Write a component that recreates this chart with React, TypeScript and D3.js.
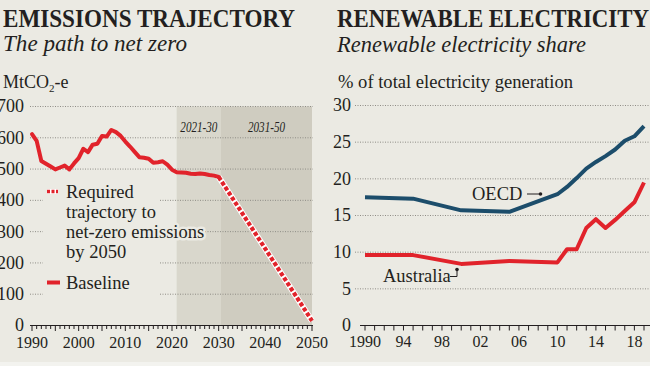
import React from 'react';
import * as d3 from 'd3';

const W = 650;
const H = 366;
const BG = '#ebeae3';
const RED = '#e1232b';
const BLUE = '#1c4d6b';
const INK = '#231f20';
const GRID = '#8f8d86';
const FONT = '"Liberation Serif", "Times New Roman", serif';

// Emissions trajectory (MtCO2-e), one value per year from 1990
const baselineStart = 1990;
const baselineValues = [
  612, 590, 526, 517, 508, 499, 505, 511, 499, 518,
  535, 565, 554, 578, 581, 606, 604, 625, 618, 606,
  588, 572, 555, 538, 536, 533, 520, 522, 525, 514,
  498, 490, 489, 488, 485, 484, 486, 484, 481, 479, 475,
];
const trajectoryYears = [2030, 2050];
const trajectoryValues = [475, 15];
const emissionTicks = [0, 100, 200, 300, 400, 500, 600, 700];
const emissionYearLabels = [1990, 2000, 2010, 2020, 2030, 2040, 2050];
const periodLabels = ['2021-30', '2031-50'];
const periodStarts = [2021, 2030.5];
const periodEnds = [2030.5, 2050];
const periodFills = ['#d9d7cc', '#cfccc0'];

// Renewable electricity share (% of generation)
const shareYears = [1990, 1995, 2000, 2005, 2010, 2011, 2012, 2013, 2014, 2015, 2016, 2017, 2018, 2019];
const oecdValues = [17.5, 17.3, 15.7, 15.5, 17.9, 18.9, 20.1, 21.4, 22.3, 23.1, 24.0, 25.2, 25.8, 27.2];
const australiaValues = [9.6, 9.6, 8.4, 8.8, 8.6, 10.4, 10.4, 13.3, 14.5, 13.3, 14.4, 15.6, 16.8, 19.5];
const shareTicks = [0, 5, 10, 15, 20, 25, 30];
const shareYearLabels = [1990, 1994, 1998, 2002, 2006, 2010, 2014, 2018];

const App: React.FC = () => {
  const xL = d3.scaleLinear().domain([1990, 2050]).range([32, 312]);
  const yL = d3.scaleLinear().domain([0, 700]).range([325.5, 106.5]);
  const xR = d3.scaleLinear().domain([1990, 2019]).range([365, 644]);
  const yR = d3.scaleLinear().domain([0, 30]).range([325.5, 105.5]);

  const baseline = baselineValues.map((v, i) => [baselineStart + i, v] as [number, number]);
  const trajectory = trajectoryYears.map((y, i) => [y, trajectoryValues[i]] as [number, number]);
  const lineL = d3.line<[number, number]>().x(d => xL(d[0])).y(d => yL(d[1]));
  const lineR = d3.line<number>().x((_, i) => xR(shareYears[i])).y(d => yR(d));

  const axisY = yL(0);
  const leftYears = d3.range(1990, 2051);
  const rightYears = d3.range(1990, 2020);

  const halo = { stroke: BG, strokeWidth: 5, paintOrder: 'stroke' as const, strokeLinejoin: 'round' as const };

  return (
    <div style={{ position: 'fixed', left: 0, top: 0 }}>
      <svg width={W} height={H} style={{ display: 'block', fontFamily: FONT }}>
        <rect width={W} height={H} fill={BG} />
        <rect y={362} width={W} height={4} fill="#f3f3ef" />

        {/* titles */}
        <text x={3} y={27} fontSize={25} fontWeight="bold" fill={INK} textLength={292} lengthAdjust="spacingAndGlyphs">EMISSIONS TRAJECTORY</text>
        <text x={337} y={27} fontSize={25} fontWeight="bold" fill={INK} textLength={312} lengthAdjust="spacingAndGlyphs">RENEWABLE ELECTRICITY</text>
        <text x={3} y={51} fontSize={23} fontStyle="italic" fill={INK} textLength={184} lengthAdjust="spacingAndGlyphs">The path to net zero</text>
        <text x={337} y={52} fontSize={23} fontStyle="italic" fill={INK} textLength={249} lengthAdjust="spacingAndGlyphs">Renewable electricity share</text>
        <text x={3} y={88} fontSize={18} fill={INK}>
          MtCO<tspan dy={4} fontSize={11}>2</tspan><tspan dy={-4}>-e</tspan>
        </text>
        <text x={338} y={88} fontSize={18} fill={INK} textLength={235} lengthAdjust="spacingAndGlyphs">% of total electricity generation</text>

        {/* left panel */}
        {periodLabels.map((p, i) => (
          <rect key={p} x={xL(periodStarts[i])} y={yL(700)} width={xL(periodEnds[i]) - xL(periodStarts[i])}
            height={axisY - yL(700)} fill={periodFills[i]} />
        ))}
        {emissionTicks.filter(t => t > 0).map(t => (
          <line key={t} x1={30} x2={313} y1={yL(t)} y2={yL(t)} stroke={GRID} strokeWidth={1} strokeDasharray="1,1.5" />
        ))}
        {emissionTicks.map(t => (
          <text key={t} x={24} y={yL(t)} dy="0.33em" fontSize={18} textAnchor="end" fill={INK}>{t}</text>
        ))}
        {periodLabels.map((p, i) => (
          <text key={p} x={xL((periodStarts[i] + periodEnds[i]) / 2)} y={132} fontSize={14} fontStyle="italic"
            textAnchor="middle" fill={INK} textLength={37} lengthAdjust="spacingAndGlyphs">{p}</text>
        ))}

        {/* legend box */}
        <rect x={43} y={179} width={117} height={120} fill={BG} />
        <line x1={47} x2={58} y1={191.5} y2={191.5} stroke="#fff" strokeWidth={5} />
        <line x1={47} x2={58} y1={191.5} y2={191.5} stroke={RED} strokeWidth={3.5} strokeDasharray="3,1.5" />
        {['Required', 'trajectory to', 'net-zero emissions', 'by 2050'].map((s, i) => (
          <text key={s} x={66} y={198 + i * 20} fontSize={18.5} fill={INK} {...halo}>{s}</text>
        ))}
        <line x1={47} x2={60} y1={282.5} y2={282.5} stroke={RED} strokeWidth={4} />
        <text x={66} y={289} fontSize={18.5} fill={INK}>Baseline</text>

        <path d={lineL(trajectory) || ''} fill="none" stroke="#fff" strokeWidth={6} />
        <path d={lineL(trajectory) || ''} fill="none" stroke={RED} strokeWidth={4.2} strokeDasharray="4,2" />
        <path d={lineL(baseline) || ''} fill="none" stroke={RED} strokeWidth={4} strokeLinejoin="round" strokeLinecap="round" />

        <line x1={30} x2={313} y1={axisY} y2={axisY} stroke={INK} strokeWidth={1.2} />
        {leftYears.map(y => (
          <line key={y} x1={xL(y)} x2={xL(y)} y1={axisY} y2={axisY + (y % 5 === 0 ? 5.5 : 3.5)} stroke={INK} strokeWidth={1} />
        ))}
        {emissionYearLabels.map(y => (
          <text key={y} x={xL(y)} y={348} fontSize={16} textAnchor="middle" fill={INK}>{y}</text>
        ))}

        {/* right panel */}
        {shareTicks.filter(t => t > 0).map(t => (
          <line key={t} x1={355} x2={W} y1={yR(t)} y2={yR(t)} stroke={GRID} strokeWidth={1} strokeDasharray="1,1.5" />
        ))}
        {shareTicks.map(t => (
          <text key={t} x={351} y={yR(t)} dy="0.33em" fontSize={18} textAnchor="end" fill={INK}>{t}</text>
        ))}
        <path d={lineR(oecdValues) || ''} fill="none" stroke={BLUE} strokeWidth={4} strokeLinejoin="round" />
        <path d={lineR(australiaValues) || ''} fill="none" stroke={RED} strokeWidth={4} strokeLinejoin="round" />

        <text x={472} y={200} fontSize={18.5} fill={INK}>OECD</text>
        <line x1={527} x2={540} y1={194} y2={194} stroke={INK} strokeWidth={1} />
        <circle cx={540.5} cy={194} r={1.8} fill={INK} />
        <text x={383} y={282} fontSize={18.5} fill={INK}>Australia</text>
        <path d="M450,276.5 H457 V270" fill="none" stroke={INK} strokeWidth={1} />
        <circle cx={457} cy={269.5} r={1.8} fill={INK} />

        <line x1={360} x2={W} y1={axisY} y2={axisY} stroke={INK} strokeWidth={1.2} />
        {rightYears.map(y => (
          <line key={y} x1={xR(y)} x2={xR(y)} y1={axisY} y2={axisY + 5} stroke={INK} strokeWidth={1} />
        ))}
        {shareYearLabels.map(y => (
          <text key={y} x={xR(y)} y={347} fontSize={16} textAnchor="middle" fill={INK}>
            {y === 1990 ? '1990' : String(y).slice(2)}
          </text>
        ))}
      </svg>
    </div>
  );
};

export default App;
